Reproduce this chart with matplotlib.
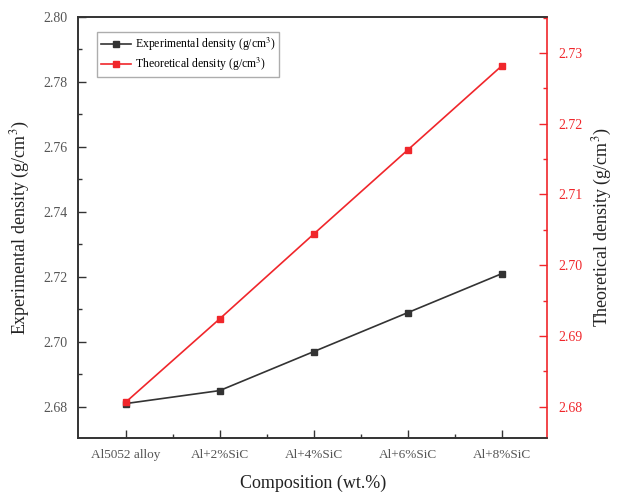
import numpy as np
import matplotlib
matplotlib.use("Agg")
import matplotlib.pyplot as plt
from matplotlib.ticker import MultipleLocator

plt.rcParams['font.family'] = ['Liberation Serif', 'DejaVu Serif']
plt.rcParams['mathtext.fontset'] = 'stix'

# data
compositions = ['Al5052 alloy', 'Al+2%SiC', 'Al+4%SiC', 'Al+6%SiC', 'Al+8%SiC']
experimental = [2.681, 2.685, 2.697, 2.709, 2.721]
theoretical = [2.6806, 2.6924, 2.7044, 2.7163, 2.7282]

red = '#f0262b'
dark = '#333333'
tick_grey = '#555555'

fig = plt.figure(figsize=(6.19, 4.97), dpi=100)
ax = fig.add_axes([0.1268, 0.1193, 0.7569, 0.8465])
ax2 = ax.twinx()

x = np.arange(len(compositions))
l1, = ax.plot(x, experimental, color=dark, lw=1.2, marker='s', ms=5,
              label='Experimental density (g/cm$^3$)')
l2, = ax2.plot(x, theoretical, color=red, lw=1.2, marker='s', ms=5,
               label='Theoretical density (g/cm$^3$)')

ax.set_xlim(-0.5, 4.48)
ax.set_ylim(2.6705, 2.80)
ax2.set_ylim(2.6756, 2.7351)

ax.set_xticks(x)
ax.set_xticklabels(compositions, fontsize=9.5, color=tick_grey)
ax.set_xticks(x[:-1] + 0.5, minor=True)

ax.set_yticks(np.arange(2.68, 2.801, 0.02))
ax.set_yticklabels(['%.2f' % v for v in np.arange(2.68, 2.801, 0.02)],
                   fontsize=10, color=tick_grey)
ax.yaxis.set_minor_locator(MultipleLocator(0.01))

ax2.set_yticks(np.arange(2.68, 2.7301, 0.01))
ax2.set_yticklabels(['%.2f' % v for v in np.arange(2.68, 2.7301, 0.01)],
                    fontsize=10, color=red)
ax2.yaxis.set_minor_locator(MultipleLocator(0.005))

ax.tick_params(which='major', direction='in', length=6, width=1, colors=dark)
ax.tick_params(which='minor', direction='in', length=3, width=1, colors=dark)
ax.tick_params(axis='x', which='major', labelcolor=tick_grey, pad=8)
ax.tick_params(axis='y', which='major', labelcolor=tick_grey, pad=8)
ax2.tick_params(which='major', direction='in', length=6, width=1,
                colors=red, pad=8)
ax2.tick_params(which='minor', direction='in', length=3, width=1, colors=red)

for s in ['left', 'bottom', 'top']:
    ax.spines[s].set_color(dark)
    ax.spines[s].set_linewidth(1.2)
    ax2.spines[s].set_color(dark)
    ax2.spines[s].set_linewidth(1.2)
ax2.spines['right'].set_color(red)
ax2.spines['right'].set_linewidth(1.2)
ax.spines['right'].set_visible(False)

ax.set_xlabel('Composition (wt.%)', fontsize=13, color='#222222', labelpad=10)
ax.set_ylabel('Experimental density (g/cm$^3$)', fontsize=13,
              color='#222222', labelpad=8)
ax2.set_ylabel('Theoretical density (g/cm$^3$)', fontsize=13,
               color='#222222', labelpad=6)

leg = ax.legend(handles=[l1, l2], loc='upper left',
                bbox_to_anchor=(0.1567, 0.9356), bbox_transform=fig.transFigure,
                borderaxespad=0, fontsize=8.5, frameon=True, fancybox=False,
                handlelength=2.6, handletextpad=0.3, labelspacing=0.25,
                borderpad=0.3)
leg.get_frame().set_edgecolor('#999999')
leg.get_frame().set_linewidth(1)

fig.savefig('out.png', dpi=100)
